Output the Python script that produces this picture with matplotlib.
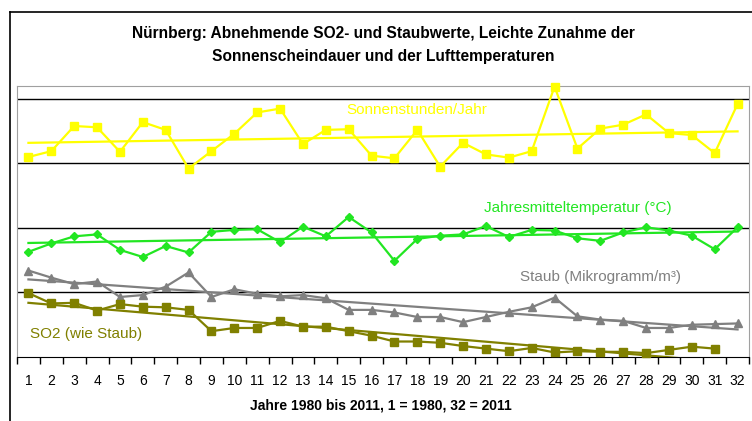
#!/usr/bin/env python3

import numpy as np
import matplotlib
matplotlib.use("Agg")
import matplotlib.pyplot as plt
from matplotlib.lines import Line2D

plt.rcParams['font.family'] = ['Liberation Sans', 'DejaVu Sans']

jahre = list(range(1, 33))

# Werte skaliert (wie im Original-Diagramm ohne y-Achse)
sonne = [3.10, 3.19, 3.58, 3.56, 3.18, 3.64, 3.52, 2.92, 3.19, 3.46,
         3.79, 3.85, 3.30, 3.52, 3.53, 3.12, 3.08, 3.52, 2.95, 3.32,
         3.14, 3.09, 3.19, 4.19, 3.23, 3.54, 3.60, 3.76, 3.47, 3.44,
         3.16, 3.92]
temp = [1.63, 1.76, 1.87, 1.90, 1.66, 1.55, 1.72, 1.62, 1.94, 1.97,
        1.98, 1.78, 2.02, 1.87, 2.17, 1.93, 1.49, 1.83, 1.88, 1.90,
        2.03, 1.86, 1.97, 1.96, 1.84, 1.80, 1.93, 2.01, 1.96, 1.88,
        1.67, 2.01]
staub = [1.34, 1.23, 1.13, 1.17, 0.93, 0.96, 1.09, 1.31, 0.93, 1.05,
         0.98, 0.94, 0.96, 0.91, 0.73, 0.73, 0.69, 0.62, 0.62, 0.54,
         0.62, 0.70, 0.77, 0.92, 0.63, 0.58, 0.56, 0.45, 0.45, 0.50,
         0.51, 0.52]
so2 = [0.99, 0.83, 0.84, 0.72, 0.82, 0.78, 0.77, 0.73, 0.40, 0.45,
       0.45, 0.56, 0.47, 0.47, 0.40, 0.33, 0.24, 0.24, 0.22, 0.17,
       0.13, 0.09, 0.14, 0.07, 0.09, 0.08, 0.08, 0.06, 0.11, 0.16,
       0.13]

gelb = '#ffff00'
gruen = '#22e622'
grau = '#808080'
oliv = '#808000'

fig = plt.figure(figsize=(7.52, 4.21), dpi=100)
ax = fig.add_axes([17 / 752, 1 - 357 / 421, 732 / 752, 271 / 421])

serien = [
    (sonne, gelb, 's', 5.5),
    (temp, gruen, 'D', 4.5),
    (staub, grau, '^', 5.5),
    (so2, oliv, 's', 5.5),
]
for werte, farbe, marker, ms in serien:
    x = np.array(jahre[:len(werte)])
    y = np.array(werte)
    k, d = np.polyfit(x, y, 1)
    ax.plot(x, k * x + d, color=farbe, lw=1.6, zorder=3)
    ax.plot(x, y, color=farbe, lw=1.6, marker=marker, markersize=ms,
            zorder=4, clip_on=False)

ax.set_xlim(0.5, 32.5)
ax.set_ylim(0, 4.2)
for g in [1, 2, 3, 4]:
    ax.axhline(g, color='black', lw=1, zorder=1)

ax.set_yticks([])
ax.set_xticks(jahre)
ax.set_xticks(np.arange(0.5, 33, 1), minor=True)
ax.tick_params(axis='x', which='major', length=0, pad=12, labelsize=10)
ax.tick_params(axis='x', which='minor', length=5, width=1, direction='out')
for s in ['left', 'right', 'top']:
    ax.spines[s].set_color('#a0a0a0')
ax.spines['bottom'].set_color('black')

ax.text(17.97, 3.83, 'Sonnenstunden/Jahr', color=gelb, fontsize=11,
        ha='center', va='center')
ax.text(25.0, 2.31, 'Jahresmitteltemperatur (°C)', color=gruen, fontsize=11,
        ha='center', va='center')
ax.text(26.0, 1.24, 'Staub (Mikrogramm/m³)', color=grau, fontsize=11,
        ha='center', va='center')
ax.text(3.5, 0.36, 'SO2 (wie Staub)', color=oliv, fontsize=11,
        ha='center', va='center')

fig.text(383 / 752, 1 - 45 / 421,
         'Nürnberg: Abnehmende SO2- und Staubwerte, Leichte Zunahme der\n'
         'Sonnenscheindauer und der Lufttemperaturen',
         ha='center', va='center', fontsize=11.2, fontweight='bold',
         linespacing=1.65)
fig.text(381 / 752, 1 - 406 / 421, 'Jahre 1980 bis 2011, 1 = 1980, 32 = 2011',
         ha='center', va='center', fontsize=10, fontweight='bold')

# Rahmen des Diagrammbereichs
fig.add_artist(Line2D([10 / 752, 10 / 752], [0, 1 - 12 / 421],
                      color='black', lw=1.2, transform=fig.transFigure))
fig.add_artist(Line2D([10 / 752, 1], [1 - 12 / 421, 1 - 12 / 421],
                      color='black', lw=1.2, transform=fig.transFigure))

plt.savefig("out.png", dpi=100)
